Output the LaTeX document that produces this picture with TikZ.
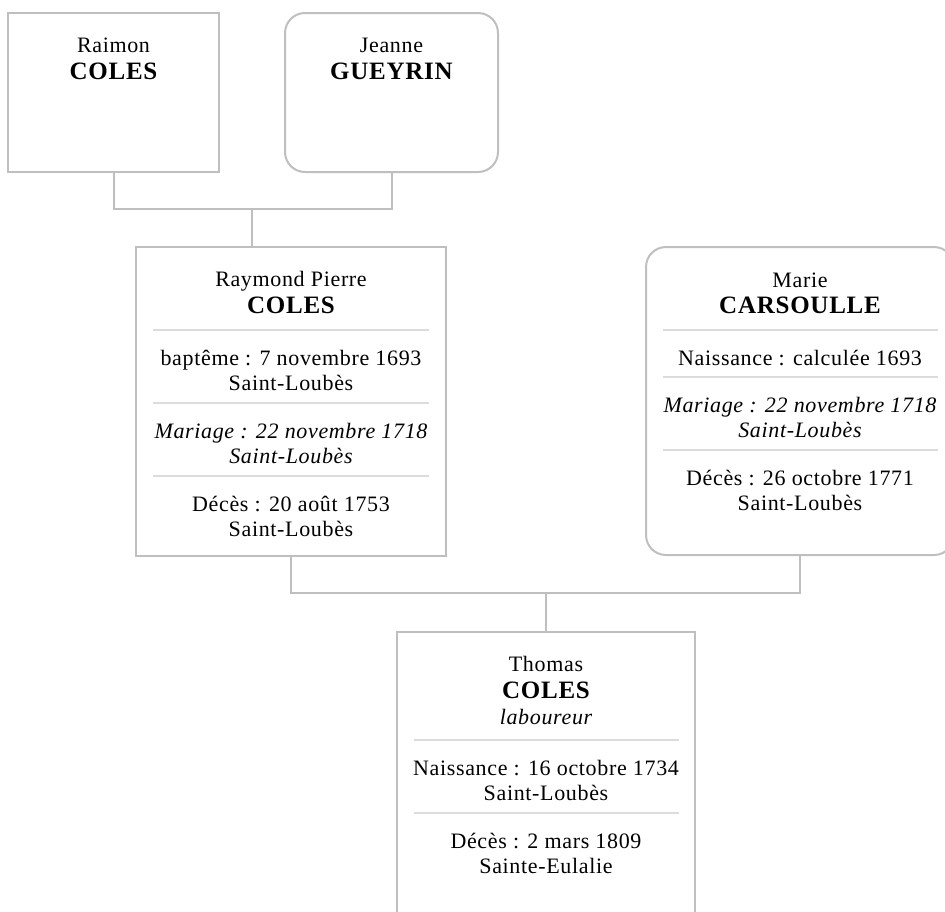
\documentclass[tikz,border=0pt]{standalone}
\usepackage{fontspec}
\setmainfont{Liberation Serif}[LetterSpace=3]
\definecolor{bord}{HTML}{BFBFBF}
\definecolor{sepc}{HTML}{DCDCDC}
\begin{document}
\begin{tikzpicture}[x=1pt,y=-1pt,
  pbox/.style={draw=bord, line width=2pt, fill=white, inner sep=0pt},
  rbox/.style={pbox, rounded corners=20pt},
  conn/.style={draw=bord, line width=2pt},
  sepl/.style={draw=sepc, line width=1.2pt},
  nm/.style={font=\fontsize{22}{26}\selectfont, anchor=base, inner sep=0pt},
  nmi/.style={font=\fontsize{22}{26}\selectfont\itshape, anchor=base, inner sep=0pt},
  sn/.style={font=\fontsize{25}{30}\selectfont\bfseries, anchor=base, inner sep=0pt}]
\useasboundingbox (0,0) rectangle (945,911);
\clip (0,0) rectangle (945,911);
% boxes
\node[pbox, minimum width=211pt, minimum height=159pt] (raimon) at (113.5,92.5) {};
\node[rbox, minimum width=213pt, minimum height=159pt] (jeanne) at (391.5,92.5) {};
\node[pbox, minimum width=310pt, minimum height=309pt] (raymond) at (291,401.5) {};
\node[rbox, minimum width=308pt, minimum height=308pt] (marie) at (800,401) {};
\node[pbox, minimum width=298pt, minimum height=318pt] (thomas) at (546,791) {};
% connectors
\coordinate (j1) at (251.5,209);
\draw[conn] (raimon.south) |- (j1) -| (jeanne.south);
\draw[conn] (j1) -- (j1 |- raymond.north);
\coordinate (j2) at (545.5,593);
\draw[conn] (raymond.south) |- (j2) -| (marie.south);
\draw[conn] (j2) -- (j2 |- thomas.north);
% Raimon
\node[nm] (t1) at (113.5,52) {Raimon};
\node[sn] (t2) at (113.5,79) {COLES};
% Jeanne
\node[nm] (t3) at (391.5,52) {Jeanne};
\node[sn] (t4) at (391.5,79) {GUEYRIN};
% Raymond
\node[nm] (r1) at (291,286) {Raymond Pierre};
\node[sn] (r2) at (291,313) {COLES};
\draw[sepl] (153,330) -- (429,330);
\node[nm] (r3) at (291,365) {baptême : 7 novembre 1693};
\node[nm] (r4) at (291,390) {Saint-Loubès};
\draw[sepl] (153,403) -- (429,403);
\node[nmi] (r5) at (291,438) {Mariage : 22 novembre 1718};
\node[nmi] (r6) at (291,463) {Saint-Loubès};
\draw[sepl] (153,476) -- (429,476);
\node[nm] (r7) at (291,511) {Décès : 20 août 1753};
\node[nm] (r8) at (291,536) {Saint-Loubès};
% Marie
\node[nm] (m1) at (800,287) {Marie};
\node[sn] (m2) at (800,313) {CARSOULLE};
\draw[sepl] (663,330) -- (938,330);
\node[nm] (m3) at (800,365) {Naissance : calculée 1693};
\draw[sepl] (663,377) -- (938,377);
\node[nmi] (m4) at (800,412) {Mariage : 22 novembre 1718};
\node[nmi] (m5) at (800,437) {Saint-Loubès};
\draw[sepl] (663,450) -- (938,450);
\node[nm] (m6) at (800,485) {Décès : 26 octobre 1771};
\node[nm] (m7) at (800,510) {Saint-Loubès};
% Thomas
\node[nm] (h1) at (546,671) {Thomas};
\node[sn] (h2) at (546,698) {COLES};
\node[nmi] (h3) at (546,724) {laboureur};
\draw[sepl] (414,740) -- (679,740);
\node[nm] (h4) at (546,775) {Naissance : 16 octobre 1734};
\node[nm] (h5) at (546,800) {Saint-Loubès};
\draw[sepl] (414,813) -- (679,813);
\node[nm] (h6) at (546,848) {Décès : 2 mars 1809};
\node[nm] (h7) at (546,873) {Sainte-Eulalie};
\end{tikzpicture}
\end{document}
